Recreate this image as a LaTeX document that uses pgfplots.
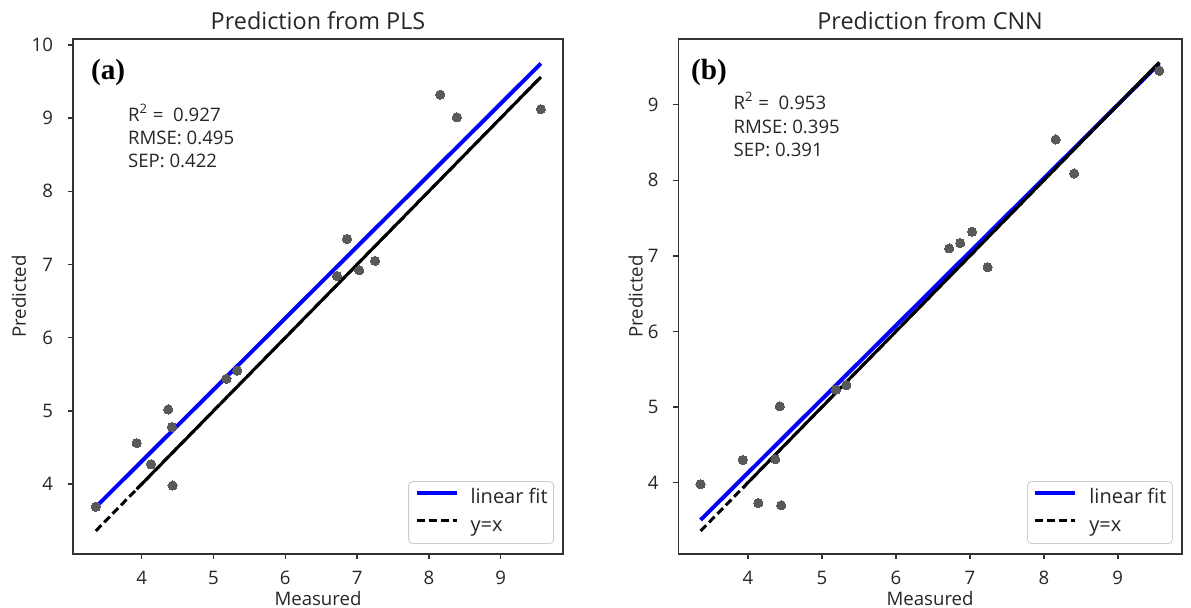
\documentclass[border=0pt]{standalone}
\usepackage{fontspec}
\setmainfont{Open Sans}
\newfontfamily\timesfont{Liberation Serif}
\usepackage{pgfplots}
\pgfplotsset{compat=1.18}

\pgfplotstableread{
x y
3.36 3.69
3.93 4.56
4.13 4.27
4.37 5.02
4.42 4.78
4.43 3.98
5.18 5.44
5.33 5.55
6.72 6.84
6.86 7.35
7.03 6.92
7.25 7.05
8.16 9.32
8.39 9.01
9.56 9.12
}\plsdata

\pgfplotstableread{
x y
3.36 3.98
3.93 4.30
4.14 3.73
4.37 4.31
4.43 5.01
4.45 3.70
5.19 5.23
5.33 5.29
6.72 7.10
6.87 7.17
7.03 7.32
7.24 6.85
8.16 8.54
8.41 8.09
9.56 9.45
}\cnndata

\pgfplotsset{
  myaxis/.style={
    scale only axis,
    height=257.5pt,
    xtick={4,...,9},
    tick align=outside, tick pos=left,
    major tick length=2.5pt,
    axis line style={black!80, line width=0.8pt},
    every tick/.style={black!80, line width=0.7pt},
    /pgf/number format/assume math mode=true,
    ticklabel style={font=\fontsize{9.3}{11}\selectfont, text=black!85},
    xticklabel style={anchor=base, inner sep=0pt, yshift=-13pt},
    yticklabel style={anchor=east, inner sep=0pt, xshift=-7.3pt},
    label style={font=\fontsize{9.3}{11}\selectfont, text=black!85},
    title style={font=\fontsize{11.7}{14}\selectfont, anchor=base, at={(0.5,1)}, yshift=-1.5pt, text=black!85},
    xlabel style={at={(0.5,0)}, anchor=base, yshift=-26pt},
    legend style={at={(1,0)}, anchor=south east, xshift=-4.5pt, yshift=5pt,
      draw=black!20, rounded corners=2pt, fill=white,
      font=\fontsize{10}{12}\selectfont, text=black!85,
      inner xsep=3pt, inner ysep=3.5pt, row sep=4pt, column sep=6pt,
      nodes={inner sep=0pt, text height=7.5pt, text depth=2.5pt, anchor=west}},
    legend cell align=left,
    legend image code/.code={\draw[#1] (0pt,3pt) -- (20pt,3pt);},
  }
}

\begin{document}
\begin{tikzpicture}
\useasboundingbox (0,0) rectangle (595.5pt,304pt);
% ---------- left: PLS
\begin{axis}[myaxis,
  at={(36.5pt,27pt)}, anchor=south west,
  width=245pt,
  xmin=3.043, xmax=9.868, ymin=3.045, ymax=10.08,
  ytick={4,...,10},
  title={Prediction from PLS},
  xlabel={Measured}, ylabel={Predicted},
  ylabel style={at={(axis description cs:-0.1102,0.5)}, anchor=center},
]
\addplot[only marks, mark=*, mark size=2.3pt, mark options={fill=black!65, draw=black!65, line width=0pt}, forget plot] table[x=x,y=y] {\plsdata};
\addplot[blue, line width=2pt] coordinates {(3.36,3.686) (9.56,9.745)};
\addlegendentry{linear fit}
\addplot[black, line width=1.5pt, dash pattern=on 4pt off 2pt] coordinates {(3.36,3.36) (9.56,9.56)};
\addlegendentry{y=x}
\addplot[black, line width=1.5pt, forget plot] coordinates {(3.93,3.93) (9.56,9.56)};
\node[anchor=west, inner sep=0pt, font=\timesfont\bfseries\fontsize{14.6}{16}\selectfont] at (rel axis cs:0.036,0.934) {(a)};
\begin{scope}[every node/.style={anchor=base west, inner sep=0pt, font=\fontsize{9.3}{11}\selectfont, text=black!85}]
\node at (rel axis cs:0.1116,0.8396) {R\textsuperscript{2} =\ \ 0.927};
\node at (rel axis cs:0.1116,0.795) {RMSE: 0.495};
\node at (rel axis cs:0.1116,0.7509) {SEP: 0.422};
\end{scope}
\end{axis}
% ---------- right: CNN
\begin{axis}[myaxis,
  at={(339.2pt,27pt)}, anchor=south west,
  width=251.7pt,
  xmin=3.06, xmax=9.865, ymin=3.056, ymax=9.87,
  ytick={4,...,9},
  title={Prediction from CNN},
  xlabel={Measured}, ylabel={Predicted},
  ylabel style={at={(axis description cs:-0.085,0.5)}, anchor=center},
]
\addplot[only marks, mark=*, mark size=2.3pt, mark options={fill=black!65, draw=black!65, line width=0pt}, forget plot] table[x=x,y=y] {\cnndata};
\addplot[blue, line width=2pt] coordinates {(3.36,3.506) (9.56,9.545)};
\addlegendentry{linear fit}
\addplot[black, line width=1.5pt, dash pattern=on 4pt off 2pt] coordinates {(3.36,3.36) (9.56,9.56)};
\addlegendentry{y=x}
\addplot[black, line width=1.5pt, forget plot] coordinates {(3.93,3.93) (9.56,9.56)};
\node[anchor=west, inner sep=0pt, font=\timesfont\bfseries\fontsize{14.6}{16}\selectfont] at (rel axis cs:0.0246,0.934) {(b)};
\begin{scope}[every node/.style={anchor=base west, inner sep=0pt, font=\fontsize{9.3}{11}\selectfont, text=black!85}]
\node at (rel axis cs:0.109,0.8635) {R\textsuperscript{2} =\ \ 0.953};
\node at (rel axis cs:0.109,0.8169) {RMSE: 0.395};
\node at (rel axis cs:0.109,0.7717) {SEP: 0.391};
\end{scope}
\end{axis}
\end{tikzpicture}
\end{document}
